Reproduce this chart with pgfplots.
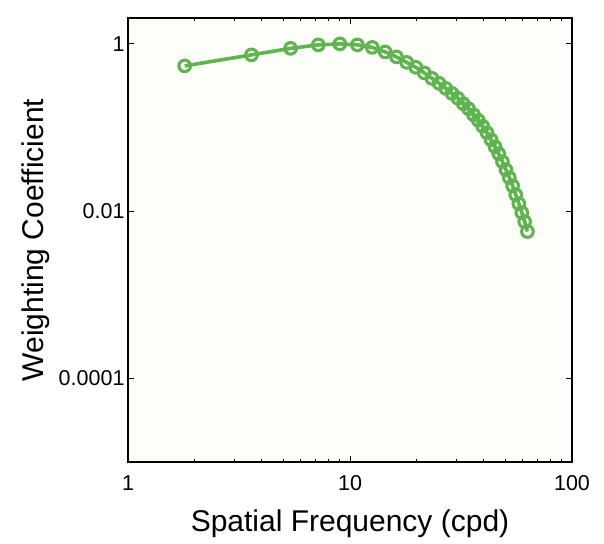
\documentclass[border=0pt]{standalone}
\usepackage{fontspec}
\setmainfont{Liberation Sans}
\usepackage{pgfplots}
\pgfplotsset{compat=1.18}
\definecolor{lgreen}{RGB}{95,180,80}
\definecolor{bgc}{RGB}{253,253,250}
\begin{document}
\begin{tikzpicture}
\path[use as bounding box] (-128bp,-82bp) rectangle (476bp,462bp);
\begin{axis}[
  at={(0,0)}, anchor=south west,
  scale only axis, width=444bp, height=444bp,
  xmode=log, ymode=log,
  xmin=1, xmax=100, ymin=1e-5, ymax=2.04,
  xtick={1,10,100}, xticklabels={1,10,100},
  ytick={1,0.01,0.0001}, yticklabels={1,0.01,0.0001},
  yminorticks=false,
  tick align=inside,
  major tick length=6bp, minor tick length=3bp,
  tick style={black, line width=0.8bp},
  axis line style={black, line width=1.3bp},
  axis background/.style={fill=bgc},
  tick label style={font=\fontsize{21.5bp}{25bp}\selectfont},
  label style={font=\fontsize{30bp}{36bp}\selectfont},
  xlabel={Spatial Frequency (cpd)},
  ylabel={Weighting Coefficient},
  xticklabel style={yshift=-10bp},
  xlabel style={yshift=-12bp},
  ylabel style={yshift=2bp},
  /pgf/number format/assume math mode=true,
]
\addplot[color=lgreen, line width=3.6bp, mark=o, mark size=5.8bp,
  mark options={line width=3.1bp}] coordinates {
(1.8,0.546) (3.6,0.739) (5.4,0.884) (7.2,0.973) (9.0,1.0)
(10.8,0.973) (12.6,0.908) (14.4,0.802) (16.2,0.699) (18.0,0.601)
(19.8,0.524) (21.6,0.450) (23.4,0.387) (25.2,0.338) (27.0,0.294)
(28.8,0.256) (30.6,0.224) (32.4,0.192) (34.2,0.1675) (36.0,0.142)
(37.8,0.122) (39.6,0.1035) (41.4,0.0866) (43.2,0.0714) (45.0,0.0589)
(46.8,0.0486) (48.6,0.039) (50.4,0.0313) (52.2,0.0251) (54.0,0.0201)
(55.8,0.0157) (57.6,0.0123) (59.4,0.0096) (61.2,0.0075) (63.0,0.0057)
};
\end{axis}
\end{tikzpicture}
\end{document}
